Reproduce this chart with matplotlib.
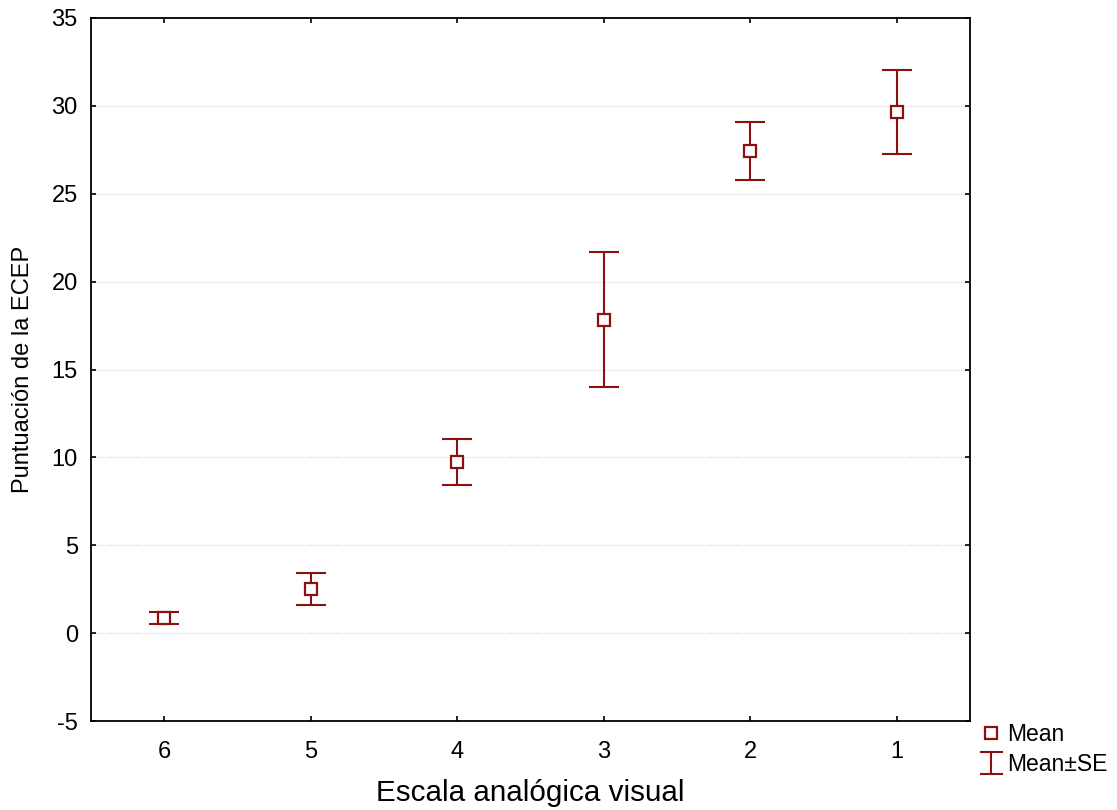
import matplotlib
matplotlib.use("Agg")
import matplotlib.pyplot as plt
from matplotlib.lines import Line2D
from matplotlib.legend_handler import HandlerBase
import numpy as np

plt.rcParams['font.family'] = ['Liberation Sans', 'DejaVu Sans']
plt.rcParams['axes.unicode_minus'] = False

categories = ["6", "5", "4", "3", "2", "1"]
means = [0.86, 2.51, 9.74, 17.82, 27.43, 29.65]
upper = [1.22, 3.42, 11.05, 21.69, 29.08, 32.05]
lower = [0.52, 1.60, 8.43, 14.00, 25.78, 27.25]

color = "#8B1010"

fig = plt.figure(figsize=(11.17, 8.10), dpi=100)
ax = fig.add_axes([91/1117, 1-721/810, (970-91)/1117, (721-18)/810])

x = np.arange(len(categories))
m = np.array(means)
yerr = np.vstack([m - np.array(lower), np.array(upper) - m])
ax.errorbar(x, m, yerr=yerr, fmt='none', ecolor=color, elinewidth=1.5,
            capsize=10.5, capthick=1.5, zorder=2)
ax.plot(x, m, linestyle='none', marker='s', markersize=8, markerfacecolor='white',
        markeredgecolor=color, markeredgewidth=1.6, zorder=3)

ax.set_xlim(-0.5, len(categories) - 0.5)
ax.set_ylim(-5, 35)
ax.set_yticks(np.arange(-5, 36, 5))
ax.set_xticks(x)
ax.set_xticklabels(categories)
ax.yaxis.grid(True, linestyle=(0, (1, 1.5)), color='#cccccc', linewidth=0.8)
ax.set_axisbelow(True)
ax.tick_params(axis='both', labelsize=17, direction='in', length=3.5, width=1.2)
ax.tick_params(axis='y', right=True, pad=9.5)
ax.tick_params(axis='x', top=True, pad=14.5)
for s in ax.spines.values():
    s.set_linewidth(1.3)

ax.set_xlabel("Escala analógica visual", fontsize=21.3, va='center')
ax.xaxis.set_label_coords(0.5, -0.1025)
ax.set_ylabel("Puntuación de la ECEP", fontsize=17, va='center')
ax.yaxis.set_label_coords(-0.077, 0.5)


class HandlerEB(HandlerBase):
    def create_artists(self, legend, orig_handle, xdescent, ydescent, width, height,
                       fontsize, trans):
        cx = width / 2 - xdescent
        y0 = -ydescent - height * 0.2
        y1 = -ydescent + height * 1.2
        hw = width * 0.45
        lines = [
            Line2D([cx, cx], [y0, y1], color=color, lw=1.5),
            Line2D([cx - hw, cx + hw], [y0, y0], color=color, lw=1.5),
            Line2D([cx - hw, cx + hw], [y1, y1], color=color, lw=1.5),
        ]
        for ln in lines:
            ln.set_transform(trans)
        return lines


class EBHandle:
    pass


h1 = Line2D([], [], linestyle='none', marker='s', markersize=8, markerfacecolor='white',
            markeredgecolor=color, markeredgewidth=1.6)
h2 = EBHandle()
fig.legend([h1, h2], ["Mean", "Mean±SE"], loc='lower left',
           bbox_to_anchor=(980/1117, 34/810), frameon=False, fontsize=16.5,
           handlelength=1.0, handletextpad=0.2, labelspacing=0.32, borderaxespad=0,
           borderpad=0, handler_map={EBHandle: HandlerEB()})

fig.savefig("out.png", dpi=100)
